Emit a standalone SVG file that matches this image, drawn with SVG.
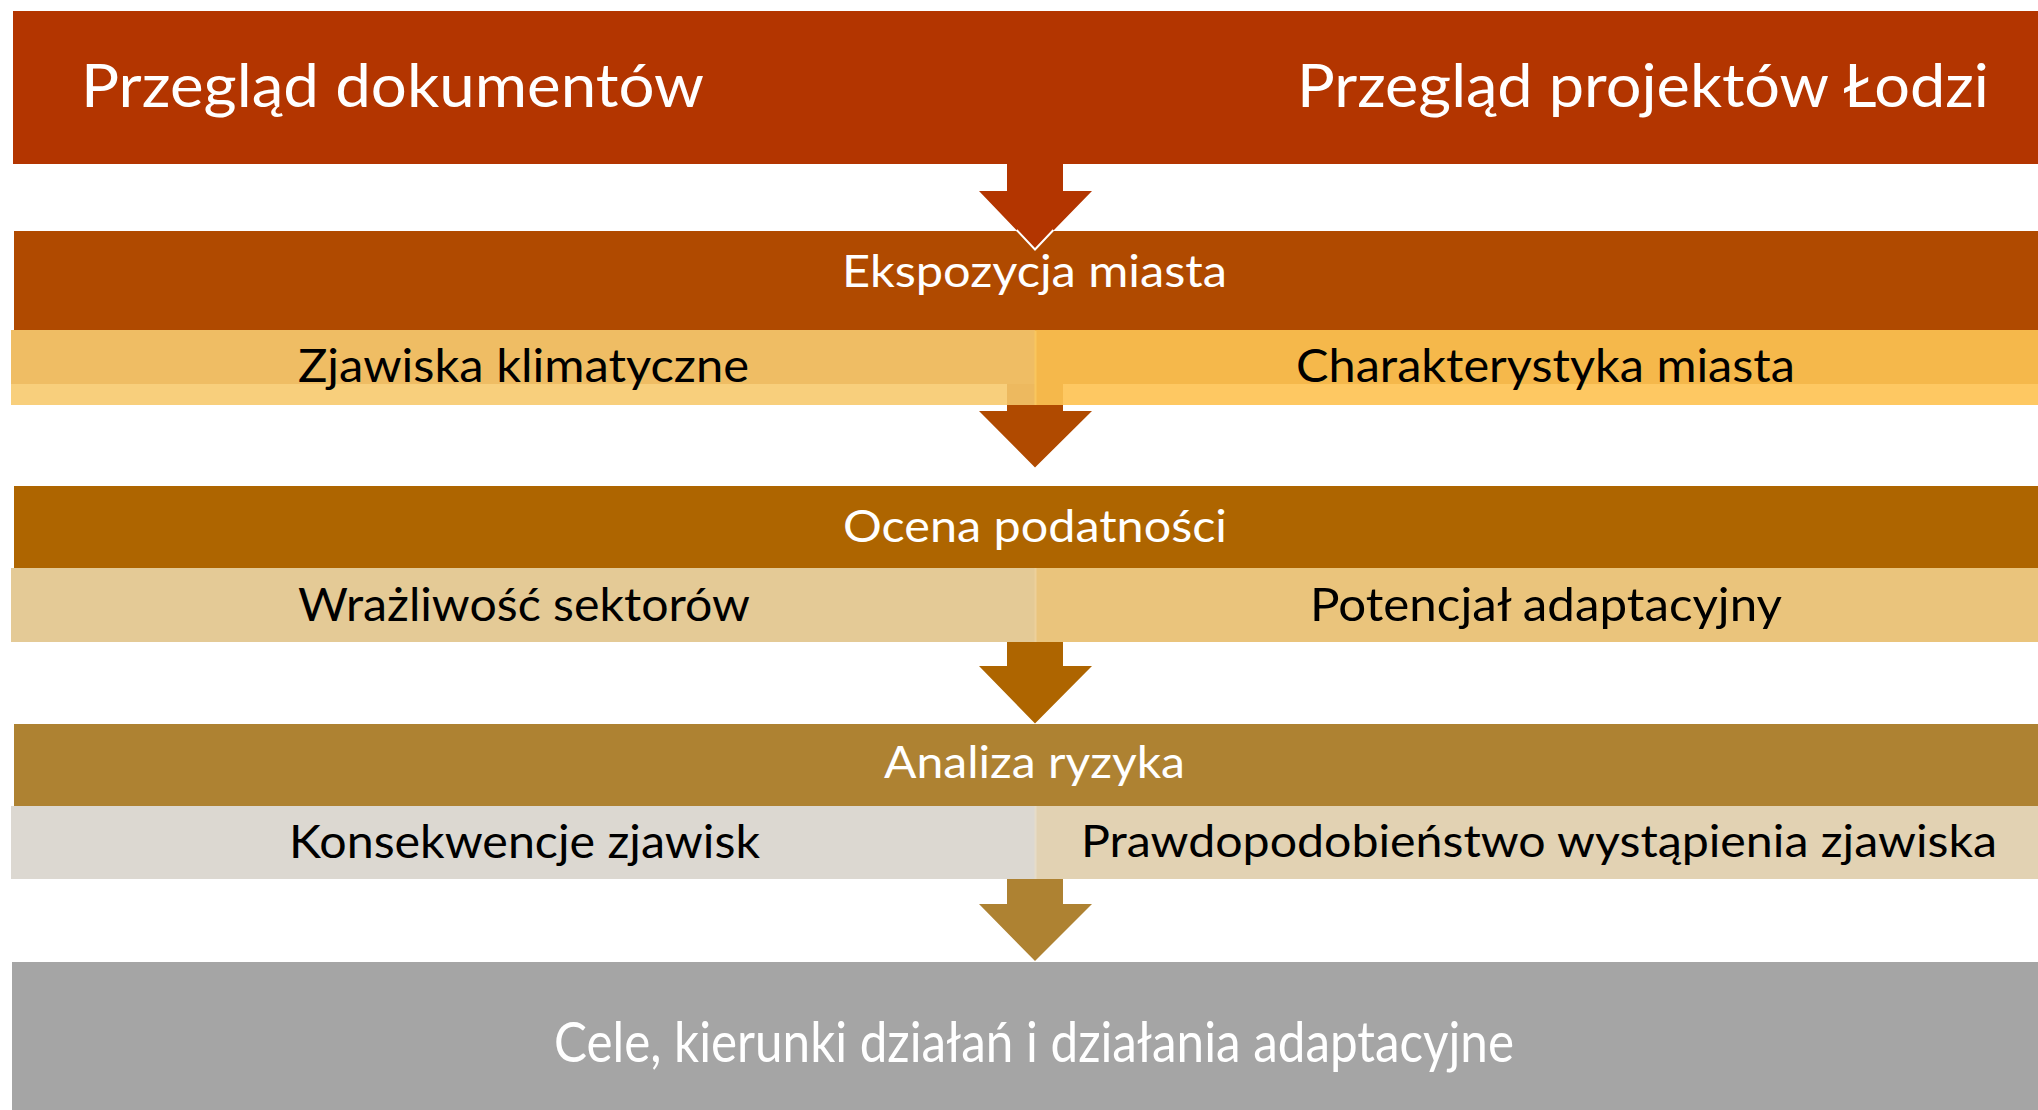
<svg xmlns="http://www.w3.org/2000/svg" width="2038" height="1110" viewBox="0 0 2038 1110">
<style>
text{font-family:Lato,"Open Sans","Liberation Sans",sans-serif;}
.w{fill:#ffffff;}
.k{fill:#000000;}
.top{font-size:60px;}
.ttl{font-size:44px;}
.sub{font-size:47px;}
.fin{font-size:56px;}
.edge{fill:none;stroke:#ffffff;stroke-width:2;}
</style>
<rect x="0" y="0" width="2038" height="1110" fill="#ffffff"/>

<g id="inputs">
<rect x="13" y="11" width="2025" height="153" fill="#B33500"/>
<text class="top w" x="81" y="107" textLength="623" lengthAdjust="spacingAndGlyphs">Przegląd dokumentów</text>
<text class="top w" x="1297" y="107" textLength="692" lengthAdjust="spacingAndGlyphs">Przegląd projektów Łodzi</text>
</g>

<g id="ekspozycja">
<rect x="14" y="231" width="2024" height="99" fill="#B04A00"/>
<text class="ttl w" x="842" y="287" textLength="385" lengthAdjust="spacingAndGlyphs">Ekspozycja miasta</text>
</g>
<g id="zjawiska">
<rect x="11" y="330" width="1024" height="75" fill="#EFBD64"/>
<rect x="11" y="384" width="996" height="21" fill="#F8CF7C"/>
<rect x="1007" y="384" width="28" height="21" fill="#EDB95F"/>
<text class="sub k" x="298" y="382" textLength="451" lengthAdjust="spacingAndGlyphs">Zjawiska klimatyczne</text>
</g>
<g id="charakterystyka">
<rect x="1035" y="330" width="1003" height="75" fill="#F5B84B"/>
<rect x="1063" y="384" width="975" height="21" fill="#FEC862"/>
<line x1="1035.5" y1="331" x2="1035.5" y2="405" stroke="#F9C65E" stroke-width="2"/>
<text class="sub k" x="1296" y="382" textLength="499" lengthAdjust="spacingAndGlyphs">Charakterystyka miasta</text>
</g>

<g id="ocena">
<rect x="14" y="486" width="2024" height="82" fill="#AE6500"/>
<text class="ttl w" x="843" y="542" textLength="384" lengthAdjust="spacingAndGlyphs">Ocena podatności</text>
</g>
<g id="wrazliwosc">
<rect x="11" y="568" width="1024" height="74" fill="#E4CA96"/>
<text class="sub k" x="298" y="621" textLength="452" lengthAdjust="spacingAndGlyphs">Wrażliwość sektorów</text>
</g>
<g id="potencjal">
<rect x="1035" y="568" width="1003" height="74" fill="#EAC47C"/>
<line x1="1035.5" y1="568" x2="1035.5" y2="642" stroke="#EDD09A" stroke-width="2"/>
<text class="sub k" x="1310" y="621" textLength="472" lengthAdjust="spacingAndGlyphs">Potencjał adaptacyjny</text>
</g>

<g id="analiza">
<rect x="14" y="724" width="2024" height="82" fill="#AE8232"/>
<text class="ttl w" x="884" y="778" textLength="301" lengthAdjust="spacingAndGlyphs">Analiza ryzyka</text>
</g>
<g id="konsekwencje">
<rect x="11" y="806" width="1024" height="73" fill="#DCD8D1"/>
<text class="sub k" x="289" y="858" textLength="471" lengthAdjust="spacingAndGlyphs">Konsekwencje zjawisk</text>
</g>
<g id="prawdopodobienstwo">
<rect x="1035" y="806" width="1003" height="73" fill="#E2D2B3"/>
<line x1="1035.5" y1="806" x2="1035.5" y2="879" stroke="#E6DCC8" stroke-width="2"/>
<text class="ttl k" x="1081" y="857" textLength="916" lengthAdjust="spacingAndGlyphs">Prawdopodobieństwo wystąpienia zjawiska</text>
</g>

<g id="cele">
<rect x="12" y="962" width="2026" height="148" fill="#A5A5A5"/>
<text class="fin w" x="554" y="1062" textLength="960" lengthAdjust="spacingAndGlyphs">Cele, kierunki działań i działania adaptacyjne</text>
</g>

<g id="connectors">
<polygon points="1007,164 1063,164 1063,191 1092,191 1035,249.5 979,191 1007,191" fill="#B33500"/>
<polyline class="edge" points="1016.6,230 1035,249.5 1053.4,230"/>
<polygon points="1007,405 1063,405 1063,411 1092,411 1035,467.5 979,411 1007,411" fill="#B04A00"/>
<polygon points="1007,642 1063,642 1063,666 1092,666 1035,723.5 979,666 1007,666" fill="#AE6500"/>
<polygon points="1007,879 1063,879 1063,904 1092,904 1035,961 979,904 1007,904" fill="#AE8232"/>
</g>
</svg>
